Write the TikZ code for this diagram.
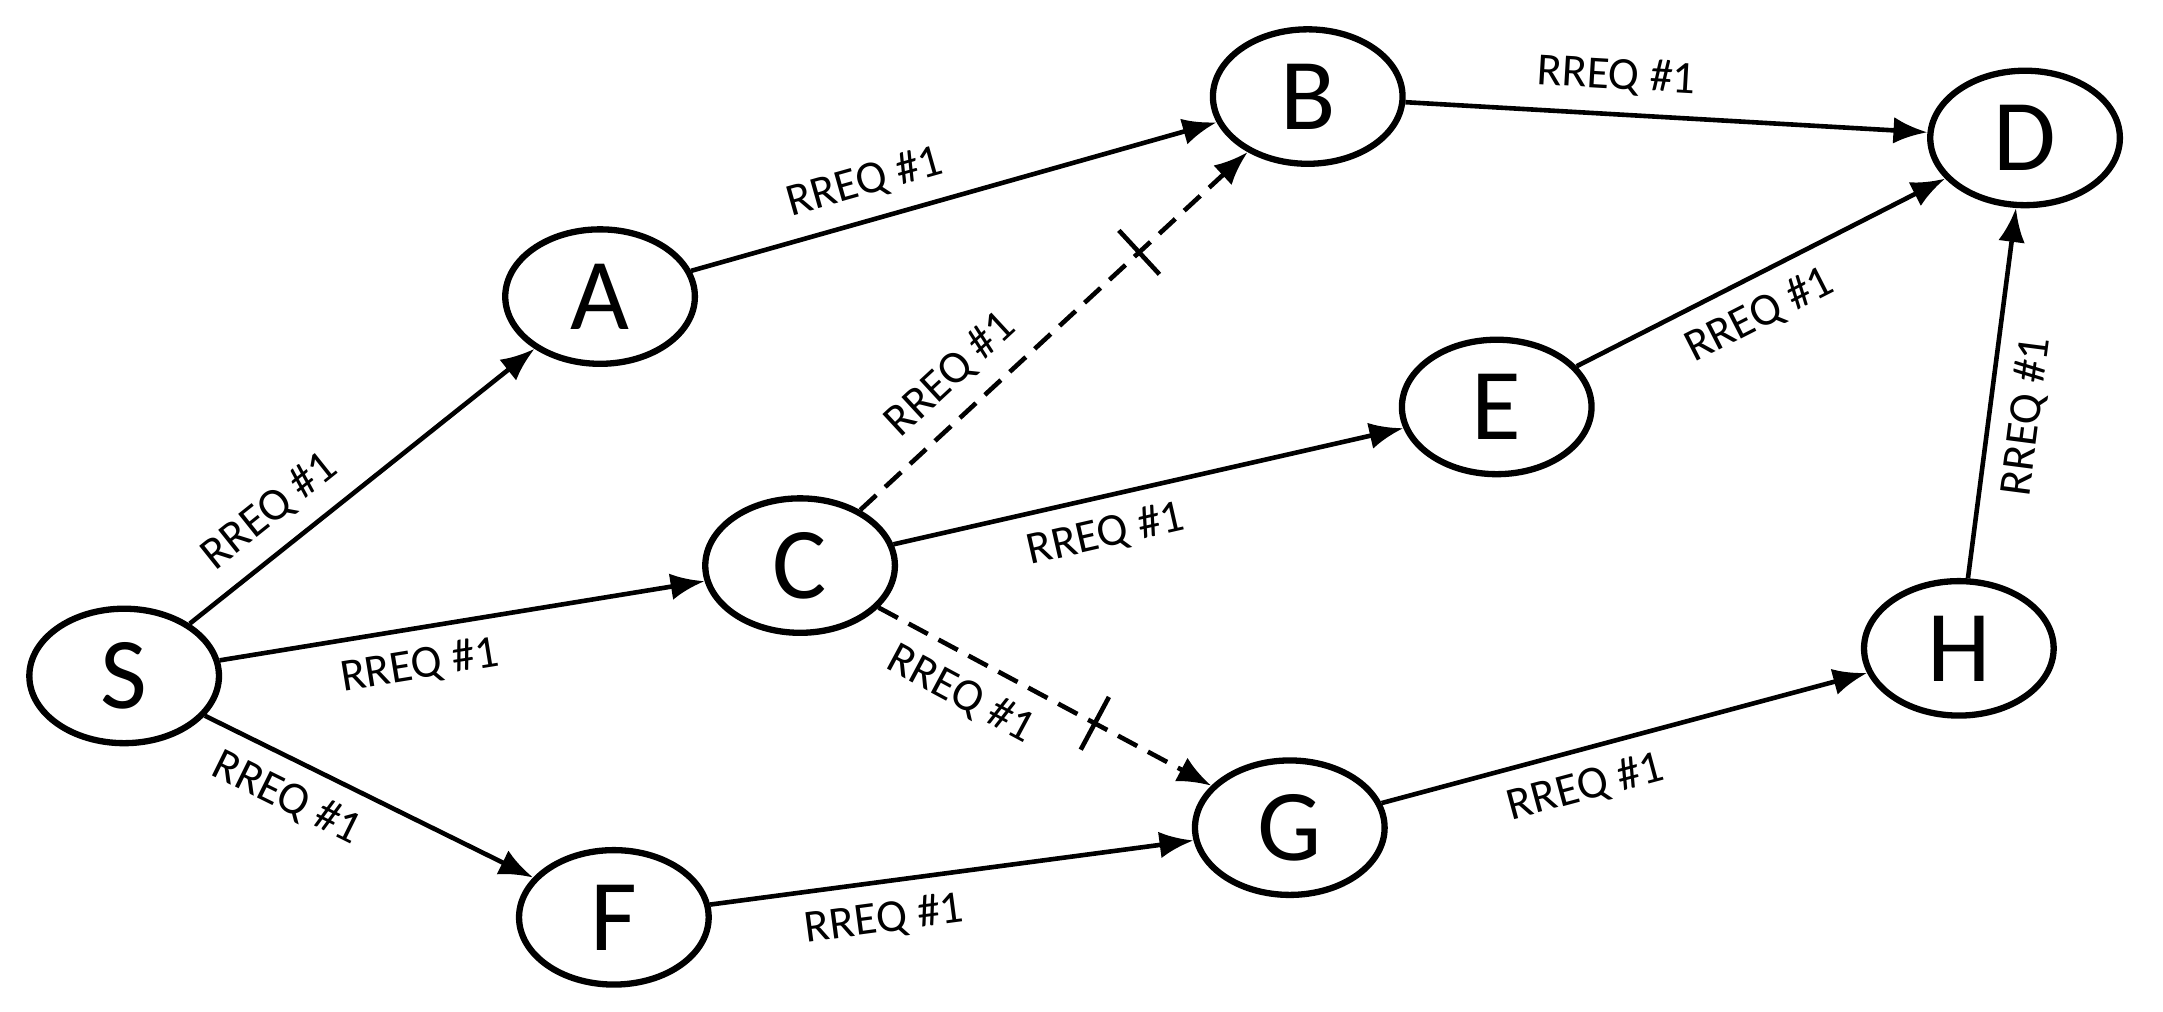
\documentclass[tikz,border=0pt]{standalone}
\usepackage{fontspec}
\setmainfont{Carlito}
\usetikzlibrary{shapes.geometric,arrows.meta}
\begin{document}
\begin{tikzpicture}[x=0.02cm,y=-0.02cm,
  nd/.style={ellipse,draw,line width=2.6pt,minimum width=2.75cm,minimum height=1.95cm,inner sep=0pt,font=\fontsize{42}{42}\selectfont},
  ed/.style={line width=1.9pt,-{Latex[length=14pt,width=11pt]}},
  dd/.style={ed,dashed,dash pattern=on 9pt off 5pt},
  lb/.style={sloped,font=\fontsize{19}{19}\selectfont,inner sep=7pt},
  tk/.style={sloped,minimum height=0.8cm,minimum width=0pt,inner sep=0pt}]
\useasboundingbox (0,0) rectangle (1568,733);
\node[nd] (S) at (90,490) {S};
\node[nd] (A) at (435,215) {A};
\node[nd] (B) at (948,70) {B};
\node[nd] (C) at (580,410) {C};
\node[nd] (D) at (1468,100) {D};
\node[nd] (E) at (1085,295) {E};
\node[nd] (F) at (445,665) {F};
\node[nd] (G) at (935,600) {G};
\node[nd] (H) at (1420,470) {H};
\draw[ed] (S) -- node[lb,above,pos=0.3]{RREQ \#1} (A);
\draw[ed] (A) -- node[lb,above,pos=0.35]{RREQ \#1} (B);
\draw[ed] (S) -- node[lb,below,pos=0.4]{RREQ \#1} (C);
\draw[ed] (C) -- node[lb,below,pos=0.4]{RREQ \#1} (E);
\draw[ed] (S) -- node[lb,below,pos=0.3]{RREQ \#1} (F);
\draw[ed] (F) -- node[lb,below,pos=0.35]{RREQ \#1} (G);
\draw[ed] (G) -- node[lb,below,pos=0.4]{RREQ \#1} (H);
\draw[ed] (E) -- node[lb,below,pos=0.45]{RREQ \#1} (D);
\draw[ed] (B) -- node[lb,above,pos=0.4]{RREQ \#1} (D);
\draw[ed] (H) -- node[lb,below,pos=0.45]{RREQ \#1} (D);
\draw[dd] (C) -- node[lb,above,pos=0.3]{RREQ \#1} node[tk,pos=0.72](x1){} (B);
\draw[dd] (C) -- node[lb,below,pos=0.3]{RREQ \#1} node[tk,pos=0.65](x2){} (G);
\draw[line width=1.9pt] (x1.north) -- (x1.south);
\draw[line width=1.9pt] (x2.north) -- (x2.south);
\end{tikzpicture}
\end{document}
